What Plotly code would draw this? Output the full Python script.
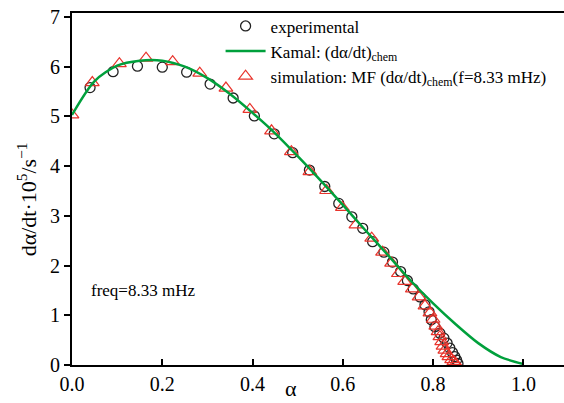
import plotly.graph_objects as go

# experimental data (circles)
exp_alpha = [0.040, 0.091, 0.145, 0.200, 0.254, 0.306, 0.357, 0.404, 0.448, 0.489,
             0.526, 0.560, 0.591, 0.620, 0.644, 0.666, 0.691, 0.710, 0.728, 0.743,
             0.756, 0.771, 0.782, 0.791, 0.796, 0.804, 0.815, 0.824, 0.831, 0.837,
             0.843, 0.848, 0.852, 0.855]
exp_rate = [5.58, 5.90, 6.01, 5.99, 5.89, 5.65, 5.37, 5.01, 4.65, 4.27,
            3.92, 3.59, 3.25, 2.98, 2.75, 2.48, 2.27, 2.07, 1.88, 1.70,
            1.53, 1.37, 1.21, 1.07, 0.91, 0.77, 0.64, 0.54, 0.44, 0.34,
            0.25, 0.17, 0.10, 0.03]

# simulation MF (triangles)
sim_alpha = [0.000, 0.045, 0.105, 0.164, 0.223, 0.283, 0.341, 0.394, 0.442, 0.486,
             0.527, 0.564, 0.599, 0.629, 0.664, 0.688, 0.708, 0.723, 0.737, 0.754,
             0.769, 0.782, 0.793, 0.800, 0.806, 0.811, 0.815, 0.819, 0.822, 0.826,
             0.831, 0.835, 0.841, 0.846, 0.850]
sim_rate = [5.03, 5.68, 6.06, 6.17, 6.10, 5.87, 5.57, 5.14, 4.71, 4.29,
            3.89, 3.51, 3.17, 2.82, 2.55, 2.27, 2.05, 1.84, 1.68, 1.53,
            1.37, 1.19, 1.05, 0.92, 0.78, 0.67, 0.57, 0.47, 0.38, 0.30,
            0.23, 0.17, 0.11, 0.07, 0.03]

# Kamal model curve (green line)
kam_alpha = [0.00, 0.05, 0.10, 0.15, 0.20, 0.25, 0.30, 0.35, 0.40, 0.45, 0.50,
             0.55, 0.60, 0.65, 0.70, 0.75, 0.80, 0.85, 0.90, 0.95, 1.00]
kam_rate = [5.03, 5.71, 6.02, 6.12, 6.12, 6.00, 5.77, 5.45, 5.07, 4.66, 4.20,
            3.72, 3.22, 2.71, 2.21, 1.70, 1.24, 0.82, 0.44, 0.16, 0.02]

x_ticks = [0.0, 0.2, 0.4, 0.6, 0.8, 1.0]
x_labels = ["0.0", "0.2", "0.4", "0.6", "0.8", "1.0"]
y_ticks = [0, 1, 2, 3, 4, 5, 6, 7]

FONT = "Liberation Serif"

fig = go.Figure()
fig.add_trace(go.Scatter(
    x=exp_alpha, y=exp_rate, mode="markers", name="experimental",
    marker=dict(symbol="circle-open", size=10, color="#222222", line=dict(width=1.3)),
    legendrank=1))
fig.add_trace(go.Scatter(
    x=sim_alpha, y=sim_rate, mode="markers",
    name="simulation: MF (dα/dt)<sub>chem</sub>(f=8.33 mHz)",
    marker=dict(symbol="triangle-up-open", size=12, color="#E8332B", line=dict(width=1.2)),
    legendrank=3))
fig.add_trace(go.Scatter(
    x=kam_alpha, y=kam_rate, mode="lines", name="Kamal: (dα/dt)<sub>chem</sub>",
    line=dict(color="#00A03C", width=2.5, shape="spline", smoothing=0.8),
    legendrank=2))

fig.update_layout(
    width=564, height=403,
    margin=dict(l=72, r=0, t=13, b=38),
    paper_bgcolor="white", plot_bgcolor="white",
    font=dict(family=FONT, size=20, color="black"),
    showlegend=True,
    legend=dict(x=0.302, y=1.013, xanchor="left", yanchor="top",
                font=dict(family=FONT, size=17), bgcolor="rgba(0,0,0,0)",
                tracegroupgap=0, itemwidth=40),
    xaxis=dict(range=[0, 1.09], tickvals=x_ticks, ticktext=x_labels,
               ticks="inside", ticklen=6, tickwidth=1.5, tickcolor="black",
               showline=True, linecolor="black", linewidth=2, mirror=True,
               showgrid=False, zeroline=False, tickfont=dict(size=20)),
    yaxis=dict(range=[0, 7.08], tickvals=y_ticks,
               ticks="outside", ticklen=6, tickwidth=1.5, tickcolor="black",
               showline=True, linecolor="black", linewidth=2, mirror=False,
               showgrid=False, zeroline=False, tickfont=dict(size=20)),
    annotations=[
        dict(text="dα/dt·10<sup>5</sup>/s<sup>−1</sup>", textangle=-90,
             xref="paper", yref="paper", x=-0.092, y=0.47, xanchor="center", yanchor="middle",
             showarrow=False, font=dict(size=22)),
        dict(text="α", xref="paper", yref="paper", x=0.445, y=-0.108,
             xanchor="center", yanchor="bottom", showarrow=False, font=dict(size=22)),
        dict(text="freq=8.33 mHz", xref="paper", yref="paper", x=0.035, y=0.213,
             xanchor="left", yanchor="middle", showarrow=False, font=dict(size=17)),
    ],
)

fig.write_html("out.html")
